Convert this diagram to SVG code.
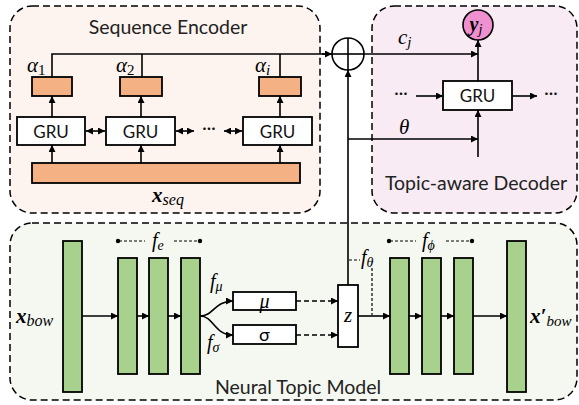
<svg xmlns="http://www.w3.org/2000/svg" width="579" height="405" viewBox="0 0 579 405">
<defs>
<marker id="ah" viewBox="0 0 10 10" refX="10" refY="5" markerWidth="7" markerHeight="7" markerUnits="userSpaceOnUse" orient="auto-start-reverse">
<path d="M0,0 L10,5 L0,10 z" fill="#000"/>
</marker>
<style>
.panel{stroke:#000;stroke-width:1.5;stroke-dasharray:7,4}
.box{fill:#fff;stroke:#000;stroke-width:1.8}
.orange{fill:#f4b183;stroke:#000;stroke-width:1.8}
.green{fill:#a9d18e;stroke:#000;stroke-width:1.8}
.ln{fill:none;stroke:#000;stroke-width:1.6}
.arr{fill:none;stroke:#000;stroke-width:1.6;marker-end:url(#ah)}
.bi{fill:none;stroke:#000;stroke-width:1.6;marker-end:url(#ah);marker-start:url(#ah)}
.dash{fill:none;stroke:#000;stroke-width:1.2;stroke-dasharray:3,2}
.dasharr{fill:none;stroke:#000;stroke-width:1.6;stroke-dasharray:5,3;marker-end:url(#ah)}
.title{font-family:Lato,"Liberation Sans",sans-serif;font-size:19.5px;fill:#222}
.gru{font-family:Lato,"Liberation Sans",sans-serif;font-size:17px;fill:#111}
.m{font-family:"Liberation Serif","DejaVu Serif",serif;font-style:italic;fill:#000}
.mb{font-family:"Liberation Serif","DejaVu Serif",serif;font-style:italic;font-weight:bold;fill:#000}
</style>
</defs>

<g id="seq-encoder">
<rect class="panel" x="10" y="6" width="310" height="207" rx="22" fill="#fdf4ef"/>
<text class="title" x="168" y="34" text-anchor="middle">Sequence Encoder</text>
</g>
<g id="topic-decoder">
<rect class="panel" x="372" y="6" width="205" height="207" rx="22" fill="#f8ebf4"/>
<text class="title" x="476" y="190" text-anchor="middle">Topic-aware Decoder</text>
</g>
<g id="ntm">
<rect class="panel" x="10" y="223" width="567" height="177" rx="22" fill="#f4f8f0"/>
<text class="title" x="298" y="394" text-anchor="middle">Neural Topic Model</text>
</g>

<g id="connectors">
<polyline class="ln" points="52,77 52,54 332,54"/>
<line class="ln" x1="142" y1="54" x2="142" y2="77"/>
<line class="ln" x1="280" y1="54" x2="280" y2="77"/>
<line class="arr" x1="322" y1="54" x2="332" y2="54"/>
<line class="arr" x1="52" y1="117" x2="52" y2="96"/>
<line class="arr" x1="141" y1="117" x2="141" y2="96"/>
<line class="arr" x1="280" y1="117" x2="280" y2="96"/>
<line class="arr" x1="52" y1="163" x2="52" y2="145"/>
<line class="arr" x1="141" y1="163" x2="141" y2="145"/>
<line class="arr" x1="280" y1="163" x2="280" y2="145"/>
<line class="bi" x1="86" y1="131" x2="105" y2="131"/>
<line class="bi" x1="176" y1="131" x2="194" y2="131"/>
<line class="bi" x1="224" y1="131" x2="242" y2="131"/>
<line class="arr" x1="348" y1="285" x2="348" y2="70"/>
<line class="arr" x1="364" y1="54" x2="478" y2="54"/>
<line class="arr" x1="348" y1="139" x2="478" y2="139"/>
<line class="arr" x1="478" y1="157" x2="478" y2="110"/>
<line class="arr" x1="478" y1="81" x2="478" y2="40"/>
<line class="arr" x1="416" y1="96" x2="443" y2="96"/>
<line class="arr" x1="512" y1="96" x2="537" y2="96"/>
<line class="arr" x1="82" y1="316" x2="118" y2="316"/>
<line class="arr" x1="137" y1="316" x2="149" y2="316"/>
<line class="arr" x1="168" y1="316" x2="181" y2="316"/>
<path class="arr" d="M200,316 C214,316 214,301 233,301"/>
<path class="arr" d="M200,316 C214,316 214,335 233,335"/>
<line class="dasharr" x1="296" y1="301" x2="338" y2="301"/>
<line class="dasharr" x1="296" y1="335" x2="338" y2="335"/>
<line class="arr" x1="358" y1="316" x2="390" y2="316"/>
<line class="arr" x1="409" y1="316" x2="422" y2="316"/>
<line class="arr" x1="441" y1="316" x2="454" y2="316"/>
<line class="arr" x1="473" y1="316" x2="507" y2="316"/>
<line class="dash" x1="349" y1="260" x2="360" y2="260"/>
<line class="dash" x1="372" y1="268" x2="372" y2="315"/>
<line class="dash" x1="119" y1="241" x2="145" y2="241"/>
<line class="dash" x1="174" y1="241" x2="199" y2="241"/>
<line class="dash" x1="390" y1="241" x2="416" y2="241"/>
<line class="dash" x1="446" y1="241" x2="471" y2="241"/>
<circle cx="118" cy="241" r="2.2" fill="#000"/>
<circle cx="200" cy="241" r="2.2" fill="#000"/>
<circle cx="389" cy="241" r="2.2" fill="#000"/>
<circle cx="472" cy="241" r="2.2" fill="#000"/>
</g>

<g id="alpha1"><rect class="orange" x="32" y="77" width="40" height="19"/><text class="m" x="27" y="72" font-size="21">α<tspan font-style="normal" font-size="15" dy="3">1</tspan></text></g>
<g id="alpha2"><rect class="orange" x="120" y="77" width="42" height="19"/><text class="m" x="116" y="72" font-size="21">α<tspan font-style="normal" font-size="15" dy="3">2</tspan></text></g>
<g id="alphai"><rect class="orange" x="259" y="77" width="42" height="19"/><text class="m" x="255" y="72" font-size="21">α<tspan font-size="15" dy="3">i</tspan></text></g>

<g id="gru1"><rect class="box" x="17" y="117" width="68" height="28"/><text class="gru" x="51" y="137.5" text-anchor="middle">GRU</text></g>
<g id="gru2"><rect class="box" x="106" y="117" width="69" height="28"/><text class="gru" x="140.5" y="137.5" text-anchor="middle">GRU</text></g>
<g id="gru3"><rect class="box" x="243" y="117" width="69" height="28"/><text class="gru" x="277.5" y="137.5" text-anchor="middle">GRU</text></g>
<text class="gru" x="209" y="134" text-anchor="middle">···</text>

<g id="xseq"><rect class="orange" x="32" y="163" width="268" height="20"/><text class="mb" x="168" y="202" font-size="21" text-anchor="middle">x<tspan font-weight="normal" font-size="16" dy="3">seq</tspan></text></g>

<g id="oplus">
<circle cx="348" cy="54" r="16" fill="none" stroke="#000" stroke-width="1.6"/>
<line class="ln" x1="332" y1="54" x2="364" y2="54"/>
<line class="ln" x1="348" y1="38" x2="348" y2="70"/>
</g>
<text class="m" x="398" y="44" font-size="21">c<tspan font-size="15" dy="3">j</tspan></text>
<text class="m" x="399" y="134" font-size="21">θ</text>

<g id="yj"><circle cx="478" cy="25" r="15" fill="#ef90d0" stroke="#000" stroke-width="1.6"/><text class="mb" x="476" y="31" font-size="20" text-anchor="middle">y<tspan font-weight="normal" font-size="14" dy="3">j</tspan></text></g>
<g id="dec-gru"><rect class="box" x="443" y="81" width="69" height="29"/><text class="gru" x="477.5" y="102" text-anchor="middle">GRU</text></g>
<text class="gru" x="401" y="99" text-anchor="middle">···</text>
<text class="gru" x="551" y="99" text-anchor="middle">···</text>

<g id="xbow"><rect class="green" x="63" y="241" width="19" height="151"/><text class="mb" x="16" y="323" font-size="21">x<tspan font-weight="normal" font-size="16" dy="3">bow</tspan></text></g>
<g id="enc-bars">
<rect class="green" x="118" y="258" width="19" height="116"/>
<rect class="green" x="149" y="258" width="19" height="116"/>
<rect class="green" x="181" y="258" width="19" height="116"/>
<text class="m" x="152" y="247" font-size="20">f<tspan font-size="14" dy="3">e</tspan></text>
</g>
<text class="m" x="210" y="288" font-size="20">f<tspan font-size="14" dy="3">μ</tspan></text>
<text class="m" x="207" y="349" font-size="20">f<tspan font-size="14" dy="3">σ</tspan></text>
<g id="mu"><rect class="box" x="233" y="292" width="63" height="18"/><text class="m" x="264.5" y="308" font-size="20" text-anchor="middle">μ</text></g>
<g id="sigma"><rect class="box" x="233" y="325" width="63" height="19"/><text x="264.5" y="341" font-size="18" text-anchor="middle" font-family="Lato,'Liberation Sans',sans-serif">σ</text></g>
<g id="z"><rect class="box" x="338" y="285" width="20" height="62"/><text class="m" x="348" y="322" font-size="21" text-anchor="middle">z</text></g>
<text class="m" x="361" y="264" font-size="20">f<tspan font-size="14" dy="3">θ</tspan></text>
<g id="dec-bars">
<rect class="green" x="390" y="258" width="19" height="116"/>
<rect class="green" x="422" y="258" width="19" height="116"/>
<rect class="green" x="454" y="258" width="19" height="116"/>
<text class="m" x="422" y="247" font-size="20">f<tspan font-size="14" dy="3">ϕ</tspan></text>
</g>
<g id="xbow-out"><rect class="green" x="507" y="241" width="19" height="151"/><text class="mb" x="530" y="323" font-size="21">x′<tspan font-weight="normal" font-size="15" dy="3">bow</tspan></text></g>
</svg>
